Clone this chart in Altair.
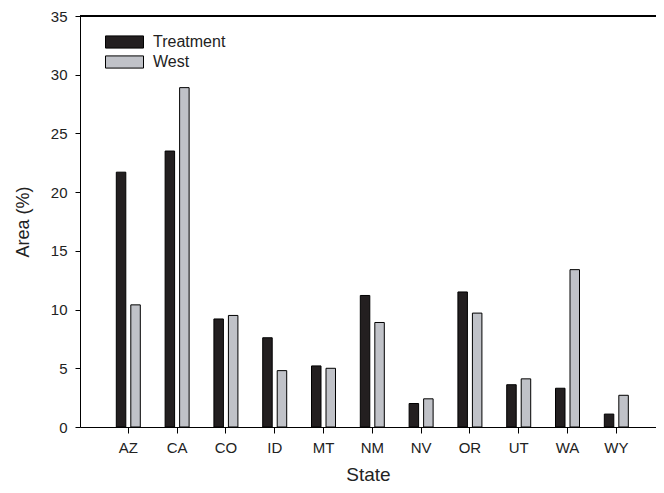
import altair as alt
import pandas as pd

states = ["AZ", "CA", "CO", "ID", "MT", "NM", "NV", "OR", "UT", "WA", "WY"]
treatment = [21.7, 23.5, 9.2, 7.6, 5.2, 11.2, 2.0, 11.5, 3.6, 3.3, 1.1]
west = [10.4, 28.9, 9.5, 4.8, 5.0, 8.9, 2.4, 9.7, 4.1, 13.4, 2.7]
series = ["Treatment", "West"]
colors = ["#231f20", "#c0c2c8"]

rows = []
for s, t, w in zip(states, treatment, west):
    rows.append({"State": s, "Series": "Treatment", "Area": t})
    rows.append({"State": s, "Series": "West", "Area": w})
df = pd.DataFrame(rows)

FONT = "Liberation Sans"

bars = alt.Chart(df).mark_bar(stroke="black", strokeWidth=1).encode(
    x=alt.X("State:N", sort=states,
            scale=alt.Scale(paddingInner=0, paddingOuter=0.4016, align=0.61),
            axis=alt.Axis(title="State", labelAngle=0, tickSize=6, labelPadding=7,
                          labelFontSize=15, titleFontSize=19, titleFontWeight="normal",
                          titlePadding=10, domainColor="black", tickColor="black",
                          labelColor="#222", titleColor="#222", labelFont=FONT, titleFont=FONT)),
    xOffset=alt.XOffset("Series:N", sort=series,
                        scale=alt.Scale(paddingInner=0.345, paddingOuter=0.855)),
    y=alt.Y("Area:Q", scale=alt.Scale(domain=[0, 35], nice=False),
            axis=alt.Axis(title="Area (%)", values=[0, 5, 10, 15, 20, 25, 30, 35], tickSize=5,
                          labelPadding=8, labelFontSize=15, titleFontSize=18,
                          titleFontWeight="normal", titlePadding=18, grid=False,
                          domainColor="black", tickColor="black", labelColor="#222",
                          titleColor="#222", labelFont=FONT, titleFont=FONT)),
    color=alt.Color("Series:N", sort=series,
                    scale=alt.Scale(domain=series, range=colors),
                    legend=alt.Legend(title=None, orient="none", legendX=25, legendY=17,
                                      symbolType="M-1,-0.32H1V0.32H-1Z", symbolSize=1444,
                                      symbolStrokeColor="black", symbolStrokeWidth=1,
                                      symbolOpacity=1, labelFontSize=16, labelFont=FONT,
                                      labelColor="#222", labelOffset=9, rowPadding=2,
                                      clipHeight=18)),
)

top = alt.Chart(df).mark_rule(color="black", strokeWidth=1).encode(y=alt.datum(35))

chart = alt.layer(bars, top).properties(
    width=576, height=411,
    autosize=alt.AutoSizeParams(type="none"),
    padding={"left": 72, "top": 8, "right": 0, "bottom": 58},
).configure_view(stroke=None).configure(font=FONT)

chart.save("out.html", embed_options={"renderer": "svg", "actions": False})
